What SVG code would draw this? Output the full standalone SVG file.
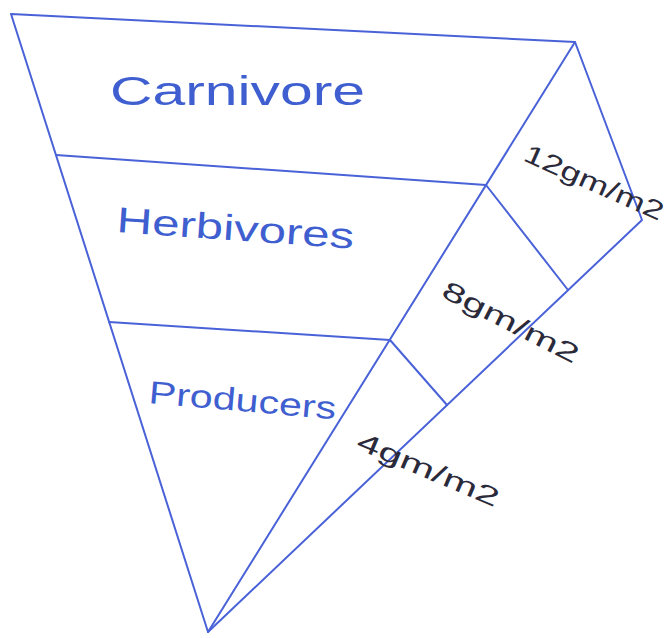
<svg xmlns="http://www.w3.org/2000/svg" width="672" height="638" viewBox="0 0 672 638">
<style>
.ln{stroke:#4a62d8;stroke-width:2;fill:none;stroke-linecap:round;stroke-linejoin:round}
.lbl{font-family:"Liberation Sans",sans-serif;fill:#3f5fd0}
.val{font-family:"Liberation Sans",sans-serif;fill:#2a2a3a;font-size:26px}
</style>
<rect width="672" height="638" fill="#ffffff"/>
<g id="connectors">
<path class="ln" d="M11,14 L575,42 L208,632 Z"/>
<path class="ln" d="M575,42 L642,220 L208,632"/>
<line class="ln" x1="56" y1="155" x2="486" y2="185"/>
<line class="ln" x1="109" y1="322" x2="390" y2="340"/>
<line class="ln" x1="486" y1="185" x2="568" y2="290"/>
<line class="ln" x1="390" y1="340" x2="447" y2="405"/>
</g>
<g id="carnivore"><text class="lbl" x="110" y="105" font-size="40" textLength="255" lengthAdjust="spacingAndGlyphs">Carnivore</text></g>
<g id="herbivores"><text class="lbl" x="116" y="232" font-size="36" textLength="238" lengthAdjust="spacingAndGlyphs" transform="rotate(4 116 232)">Herbivores</text></g>
<g id="producers"><text class="lbl" x="148" y="403" font-size="32" textLength="188" lengthAdjust="spacingAndGlyphs" transform="rotate(5 148 403)">Producers</text></g>
<g id="v12"><text class="val" x="522" y="160" textLength="150" lengthAdjust="spacingAndGlyphs" transform="rotate(24 522 160)">12gm/m2</text></g>
<g id="v8"><text class="val" x="440" y="296" textLength="150" lengthAdjust="spacingAndGlyphs" transform="rotate(27 440 296)">8gm/m2</text></g>
<g id="v4"><text class="val" x="355" y="448" textLength="152" lengthAdjust="spacingAndGlyphs" transform="rotate(23 355 448)">4gm/m2</text></g>
</svg>
